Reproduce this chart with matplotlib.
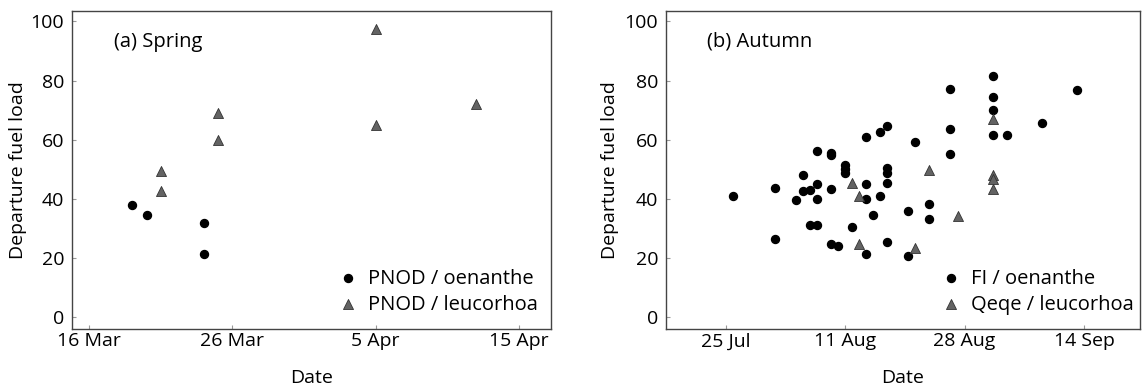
import matplotlib
matplotlib.use("Agg")
import matplotlib.pyplot as plt
import pandas as pd

plt.rcParams['font.family'] = ['Open Sans', 'DejaVu Sans']

# ---- Spring data ----
spring_oen_dates = ['2000-03-19', '2000-03-20', '2000-03-24', '2000-03-24']
spring_oen_fuel = [37.8, 34.4, 31.7, 21.4]
spring_leu_dates = ['2000-03-21', '2000-03-21', '2000-03-25', '2000-03-25',
                    '2000-04-05', '2000-04-05', '2000-04-12']
spring_leu_fuel = [49.6, 42.6, 69.1, 59.9, 97.4, 65.0, 72.0]

# ---- Autumn data ----
autumn_oen_dates = ['2000-07-26', '2000-08-01', '2000-08-01', '2000-08-04', '2000-08-05',
                    '2000-08-05', '2000-08-06', '2000-08-06', '2000-08-07', '2000-08-07',
                    '2000-08-07', '2000-08-07', '2000-08-09', '2000-08-09', '2000-08-09',
                    '2000-08-09', '2000-08-10', '2000-08-11', '2000-08-11', '2000-08-11',
                    '2000-08-12', '2000-08-14', '2000-08-14', '2000-08-14', '2000-08-14',
                    '2000-08-15', '2000-08-16', '2000-08-16', '2000-08-17', '2000-08-17',
                    '2000-08-17', '2000-08-17', '2000-08-17', '2000-08-20', '2000-08-20',
                    '2000-08-21', '2000-08-23', '2000-08-23', '2000-08-26', '2000-08-26',
                    '2000-08-26', '2000-09-01', '2000-09-01', '2000-09-01', '2000-09-01',
                    '2000-09-03', '2000-09-08', '2000-09-13']
autumn_oen_fuel = [41.1, 43.7, 26.4, 39.8, 48.2,
                   42.6, 42.9, 31.1, 56.2, 45.2,
                   40.0, 31.3, 55.4, 54.7, 43.5,
                   24.7, 24.1, 51.5, 50.0, 48.6,
                   30.4, 60.9, 45.2, 40.0, 21.4,
                   34.7, 62.7, 41.1, 64.7, 50.3,
                   48.6, 45.5, 25.4, 35.8, 20.6,
                   59.2, 38.4, 33.2, 77.3, 63.7,
                   55.3, 81.4, 74.5, 70.1, 61.5,
                   61.5, 65.5, 76.7]
autumn_leu_dates = ['2000-08-12', '2000-08-13', '2000-08-13', '2000-08-21', '2000-08-23',
                    '2000-08-27', '2000-09-01', '2000-09-01', '2000-09-01', '2000-09-01']
autumn_leu_fuel = [45.4, 40.9, 24.7, 23.4, 49.7, 34.1, 66.9, 48.0, 46.6, 43.5]

spring_ticks = ['2000-03-16', '2000-03-26', '2000-04-05', '2000-04-15']
spring_ticklabels = ['16 Mar', '26 Mar', '5 Apr', '15 Apr']
autumn_ticks = ['2000-07-25', '2000-08-11', '2000-08-28', '2000-09-14']
autumn_ticklabels = ['25 Jul', '11 Aug', '28 Aug', '14 Sep']
yticks = [0, 20, 40, 60, 80, 100]

fig = plt.figure(figsize=(11.45, 3.9), dpi=100)
ax1 = fig.add_axes([0.0627, 0.1564, 0.4183, 0.8154])
ax2 = fig.add_axes([0.5814, 0.1564, 0.4142, 0.8154])

tri_color = '#636363'


def style(ax, ticks, ticklabels, xlim, panel_label, leg_x, ylab_x):
    ax.set_xticks(pd.to_datetime(ticks))
    ax.set_xticklabels(ticklabels)
    ax.set_xlim(xlim)
    ax.set_ylim(-3.96, 103.5)
    ax.set_yticks(yticks)
    ax.tick_params(direction='in', length=3, width=0.8, color='#999999',
                   labelsize=14)
    ax.tick_params(axis='y', pad=5.5)
    ax.tick_params(axis='x', pad=2.5)
    for s in ax.spines.values():
        s.set_linewidth(1.0)
        s.set_color('#444444')
    ax.set_xlabel('Date', fontsize=14)
    ax.xaxis.set_label_coords(0.5, -0.154)
    ax.xaxis.label.set_va('center')
    ax.set_ylabel('Departure fuel load', fontsize=14)
    ax.yaxis.set_label_coords(ylab_x, 0.5)
    ax.yaxis.label.set_va('center')
    ax.text(0.088, 0.9035, panel_label, transform=ax.transAxes, fontsize=14.5,
            va='center', ha='left')
    ax.legend(loc='upper left', frameon=False, fontsize=14.5, handletextpad=0.5,
              labelspacing=0.3, borderaxespad=0.0, borderpad=0.0, handlelength=1.0,
              bbox_to_anchor=(leg_x, 0.19))


ax1.scatter(pd.to_datetime(spring_oen_dates), spring_oen_fuel, s=33, c='black',
            marker='o', label='PNOD / oenanthe', zorder=3)
ax1.scatter(pd.to_datetime(spring_leu_dates), spring_leu_fuel, s=52, c=tri_color,
            edgecolors='#333333', linewidths=0.6, marker='^', label='PNOD / leucorhoa', zorder=3)
style(ax1, spring_ticks, spring_ticklabels,
      (pd.Timestamp('2000-03-16') - pd.Timedelta(days=1.22),
       pd.Timestamp('2000-04-15') + pd.Timedelta(days=2.22)),
      '(a) Spring', 0.556, -0.112)

ax2.scatter(pd.to_datetime(autumn_oen_dates), autumn_oen_fuel, s=33, c='black',
            marker='o', label='FI / oenanthe', zorder=3)
ax2.scatter(pd.to_datetime(autumn_leu_dates), autumn_leu_fuel, s=52, c=tri_color,
            edgecolors='#333333', linewidths=0.6, marker='^', label='Qeqe / leucorhoa', zorder=3)
style(ax2, autumn_ticks, autumn_ticklabels,
      (pd.Timestamp('2000-07-25') - pd.Timedelta(days=8.54),
       pd.Timestamp('2000-07-25') + pd.Timedelta(days=58.97)),
      '(b) Autumn', 0.580, -0.1174)

fig.savefig('out.png', dpi=100)
